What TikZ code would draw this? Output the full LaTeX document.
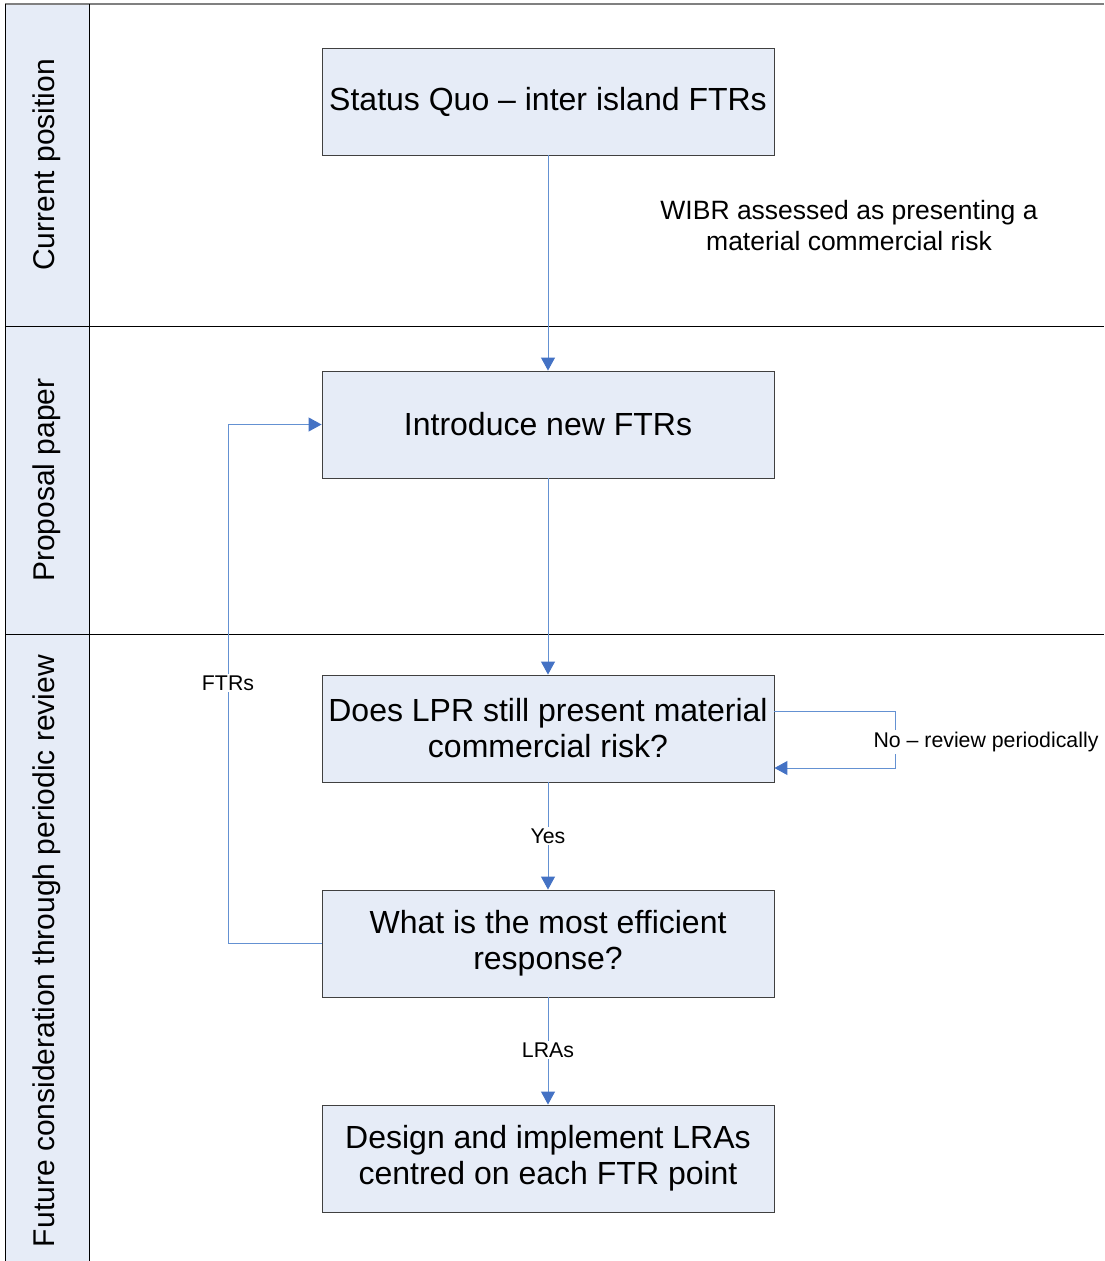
\documentclass[tikz,border=0pt]{standalone}
\usepackage{fontspec}
\setmainfont{Liberation Sans}
\usetikzlibrary{arrows.meta}
\definecolor{boxfill}{RGB}{230,236,247}
\definecolor{boxline}{RGB}{64,64,64}
\definecolor{flow}{RGB}{100,145,210}
\definecolor{tip}{RGB}{68,114,196}
\begin{document}
\begin{tikzpicture}[x=1pt,y=-1pt,
  stepbox/.style={draw=boxline,fill=boxfill,line width=0.9pt,minimum width=452pt,minimum height=107pt,inner sep=0pt,align=center,font=\fontsize{32}{36}\selectfont},
  flowline/.style={draw=flow,line width=1pt,-{Triangle[length=13pt,width=14pt,color=tip]}},
  lbl/.style={fill=white,inner sep=2pt,font=\fontsize{21.3}{25}\selectfont},
  lanetxt/.style={rotate=90,font=\fontsize{30}{36}\selectfont,inner sep=0pt},
  laneline/.style={draw=black,line width=1pt}]
\useasboundingbox (0,0) rectangle (1104,1261);
% lanes
\fill[boxfill] (5,4) rectangle (89,1261);
\draw[draw=gray,line width=1.2pt] (5,4) -- (1104,4);
\draw[laneline] (5,4) -- (5,1261);
\draw[laneline] (89,4) -- (89,1261);
\draw[laneline] (5,326) -- (1104,326);
\draw[laneline] (5,634) -- (1104,634);
\node[lanetxt] (l1) at (47,165) {Current position};
\node[lanetxt] (l2) at (47,480) {Proposal paper};
\node[lanetxt] (l3) at (47,951) {Future consideration through periodic review};
% boxes
\node[stepbox] (b1) at (548,101.5) {Status Quo – inter island FTRs};
\node[stepbox] (b2) at (548,424.5) {Introduce new FTRs};
\node[stepbox] (b3) at (548,728.5) {Does LPR still present material\\commercial risk?};
\node[stepbox] (b4) at (548,943.5) {What is the most efficient\\response?};
\node[stepbox] (b5) at (548,1158.5) {Design and implement LRAs\\centred on each FTR point};
% free text
\node[align=center,font=\fontsize{26.5}{31}\selectfont] (w) at (849,226) {WIBR assessed as presenting a\\material commercial risk};
% connectors
\draw[flowline] (b1) -- (b2);
\draw[flowline] (b2) -- (b3);
\draw[flowline] (b3) -- (b4);
\node[lbl] (yes) at (548,836) {Yes};
\draw[flowline] (b4) -- (b5);
\node[lbl] (lras) at (548,1050) {LRAs};
\coordinate (fa) at (228,943.5);
\coordinate (fb) at (228,424.5);
\draw[flowline] (b4.west) -- (fa) -- (fb) -- (b2.west);
\node[lbl] (ftrs) at (228,683) {FTRs};
\coordinate (na) at (895,711);
\coordinate (nb) at (895,768);
\draw[flowline] (b3.east |- na) -- (na) -- (nb) -- (b3.east |- nb);
\node[lbl] (no) at (986,742) {No – review periodically};
\end{tikzpicture}
\end{document}
